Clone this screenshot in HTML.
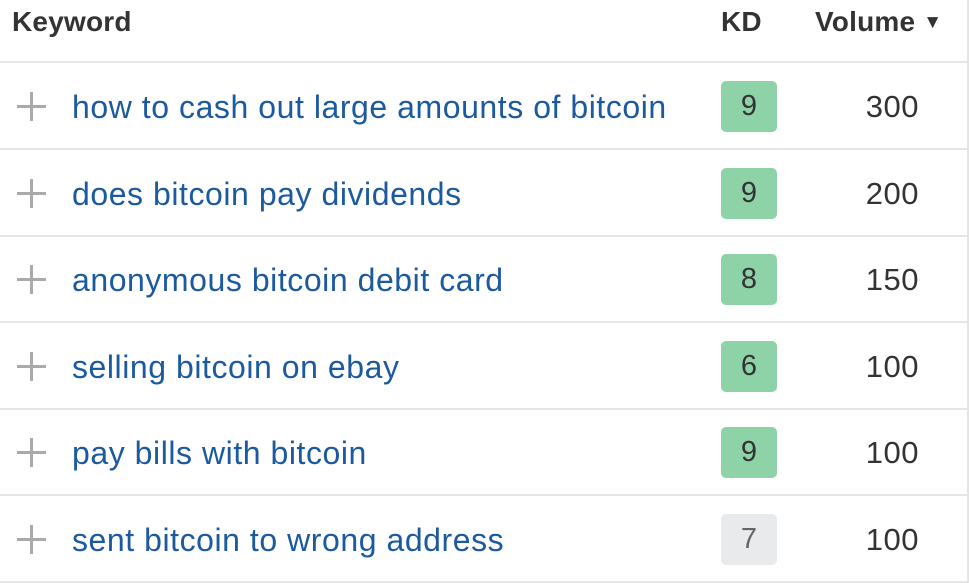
<!DOCTYPE html>
<html><head><meta charset="utf-8">
<style>
body{margin:0;width:970px;height:583px;background:#fff;overflow:hidden;font-family:"Liberation Sans",Arial,sans-serif;position:relative}
.h{position:absolute;top:6px;font-weight:bold;font-size:28px;letter-spacing:0.2px;color:#333;line-height:32px}
.line{position:absolute;left:0;width:968px;height:2px;background:#e6e6e6}
.vline{position:absolute;left:967px;top:0;width:2px;height:583px;background:#e6e6e6}
.row{position:absolute;left:0;width:967px;height:86px}
.plus{position:absolute;left:17px;top:29px;width:29px;height:29px}
.plus:before{content:"";position:absolute;left:0;top:13px;width:29px;height:3px;background:#aaa}
.plus:after{content:"";position:absolute;left:13px;top:0;width:3px;height:29px;background:#aaa}
.kw{position:absolute;left:72px;top:26px;font-size:32px;letter-spacing:0.55px;line-height:36px;color:#1c5aa0}
.kd{position:absolute;left:721px;top:18px;width:56px;height:51px;border-radius:5px;background:#8ed3a8;color:#333;font-size:29px;line-height:51px;text-align:center}
.kd.grey{background:#e9eaec;color:#666}
.vol{position:absolute;right:48px;top:26px;font-size:31px;letter-spacing:0.5px;line-height:36px;color:#333}
</style></head><body>
<div class="h" style="left:12px">Keyword</div>
<div class="h" style="left:721px">KD</div>
<div class="h" style="left:815px">Volume <span style="font-size:19px;position:relative;top:-3px">▼</span></div>
<div class="vline"></div>
<div class="line" style="top:61px"></div>
<div id="rows"></div>
<script>
const keywords=["how to cash out large amounts of bitcoin","does bitcoin pay dividends","anonymous bitcoin debit card","selling bitcoin on ebay","pay bills with bitcoin","sent bitcoin to wrong address"];
const kdValues=[9,9,8,6,9,7];
const volumes=[300,200,150,100,100,100];
const greyKd=[false,false,false,false,false,true];
const c=document.getElementById('rows');
keywords.forEach((k,i)=>{
  const r=document.createElement('div');r.className='row';r.style.top=(63+i*86.5)+'px';
  
  
  const p=document.createElement('div');p.className='plus';
  
  
  const t=document.createElement('div');t.className='kw';t.textContent=k;
  
  
  const d=document.createElement('div');d.className='kd'+(greyKd[i]?' grey':'');d.textContent=kdValues[i];
  
  
  const v=document.createElement('div');v.className='vol';v.textContent=volumes[i];
  
  
  const l=document.createElement('div');l.className='line';l.style.top='85px';
  
  
  r.append(p,t,d,v,l);c.appendChild(r);
});
</script>
</body></html>
